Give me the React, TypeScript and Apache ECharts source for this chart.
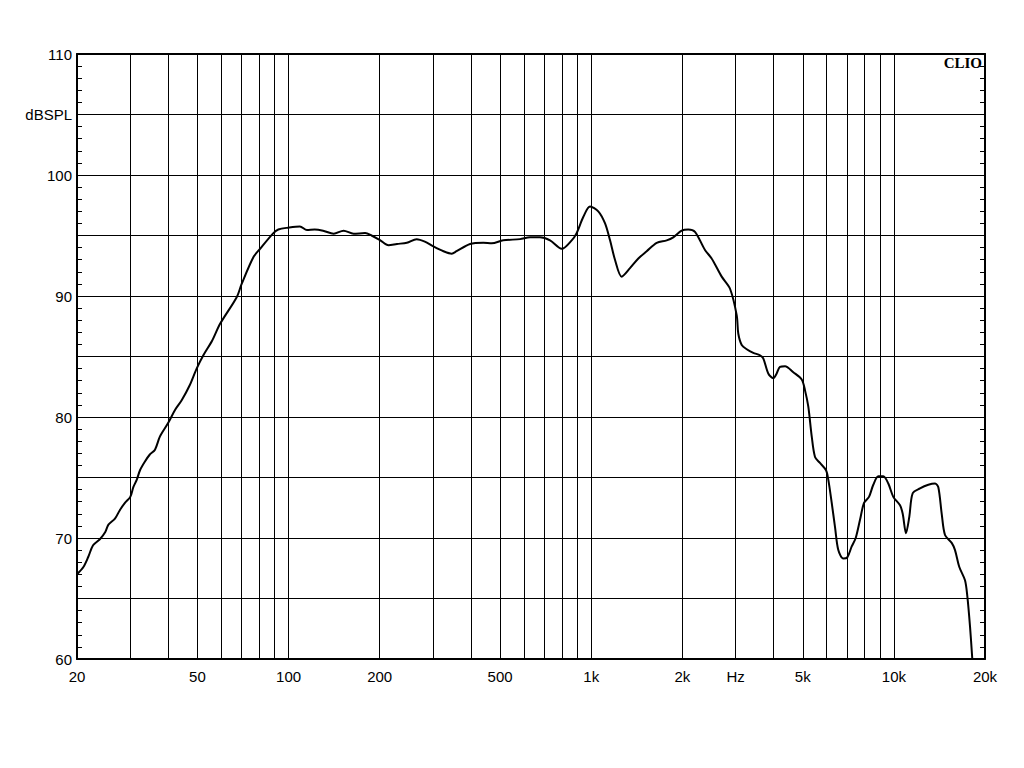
import React, { useEffect, useRef } from "react";
import * as echarts from "echarts";

const freqs = [
  20, 21.0, 21.8, 22.6, 23.8, 24.8, 25.4, 26.7, 27.7, 28.8, 30, 30.7, 31.5, 32.3, 33.5, 34.8, 36.2, 37.6, 40, 42.2,
  44.4, 47.1, 49.7, 52.3, 55.9, 59.4, 67.4, 70.0, 76.5, 80.5, 89.1, 92.5, 99.8, 109, 115, 122, 130, 141, 152, 164,
  179, 188, 201, 214, 228, 246, 265, 282, 301, 325, 346, 359, 398, 440, 469, 512, 582, 628, 677, 731,
  799, 862, 895, 942, 991, 1055, 1111, 1154, 1198, 1261, 1343, 1431, 1525, 1646, 1776, 1867, 1990, 2092, 2202, 2376,
  2500, 2698, 2875, 3025, 3061, 3142, 3264, 3432, 3611, 3702, 3846, 3995, 4100, 4204, 4368, 4652, 4960, 5086, 5215, 5352,
  5488, 5700, 5968, 6073, 6232, 6390, 6552, 6806, 7015, 7255, 7480, 7728, 7967, 8275, 8550, 8882, 9226, 9584, 9955, 10478,
  10694, 10965, 11244, 11538, 12198, 12996, 13675, 14022, 14388, 14754, 15524, 15920, 16450, 17178, 17482, 17844, 18158,
];
const splDb = [
  67.0, 67.6, 68.45, 69.4, 69.9, 70.5, 71.1, 71.6, 72.3, 72.9, 73.4, 74.2, 74.8, 75.6, 76.3, 76.9, 77.3, 78.4, 79.5, 80.6,
  81.4, 82.6, 84.0, 85.1, 86.3, 87.7, 89.9, 91.0, 93.2, 93.9, 95.2, 95.5, 95.65, 95.75, 95.45, 95.5, 95.4, 95.15, 95.4, 95.15,
  95.2, 95.0, 94.6, 94.2, 94.3, 94.4, 94.7, 94.5, 94.1, 93.7, 93.5, 93.7, 94.3, 94.4, 94.35, 94.6, 94.7, 94.85, 94.85, 94.6,
  93.9, 94.6, 95.2, 96.55, 97.4, 97.0, 96.0, 94.6, 93.0, 91.6, 92.3, 93.1, 93.7, 94.4, 94.6, 94.85, 95.4, 95.5, 95.3, 93.8,
  93.1, 91.6, 90.6, 88.4, 86.9, 85.95, 85.6, 85.3, 85.1, 84.85, 83.6, 83.2, 83.6, 84.15, 84.2, 83.7, 83.1, 82.2, 80.85, 78.4,
  76.7, 76.2, 75.6, 74.8, 72.9, 70.9, 69.0, 68.3, 68.4, 69.3, 70.0, 71.5, 72.9, 73.4, 74.4, 75.1, 75.1, 74.5, 73.4, 72.7,
  72.0, 70.4, 71.75, 73.7, 74.1, 74.4, 74.5, 74.2, 72.0, 70.25, 69.6, 69.0, 67.6, 66.5, 65.2, 62.7, 60.0,
];

const gridFreqs = [
  20, 30, 40, 50, 60, 70, 80, 90, 100, 200, 300, 400, 500, 600, 700, 800, 900, 1000,
  2000, 3000, 4000, 5000, 6000, 7000, 8000, 9000, 10000, 20000,
];
const tickFreqs = [20, 50, 100, 200, 500, 1000, 2000, 3000, 5000, 10000, 20000];
const tickLabels = ["20", "50", "100", "200", "500", "1k", "2k", "Hz", "5k", "10k", "20k"];

const FONT = "'Liberation Sans', Arial, sans-serif";

export default function App() {
  const ref = useRef<HTMLDivElement>(null);
  useEffect(() => {
    if (!ref.current) return;
    const chart = echarts.init(ref.current, null, { renderer: "svg" });
    const lineData = freqs.map((f, i) => [f, splDb[i]]);
    const markData = gridFreqs.map((f) => {
      const idx = tickFreqs.indexOf(f);
      return {
        xAxis: f,
        label: idx >= 0 ? { show: true, formatter: tickLabels[idx] } : { show: false },
      };
    });
    chart.setOption({
      animation: false,
      backgroundColor: "#ffffff",
      grid: { left: 77, top: 54, right: 39, bottom: 109, show: false },
      xAxis: [
        {
          type: "log",
          logBase: 10,
          min: 20,
          max: 20000,
          axisLine: { show: true, lineStyle: { color: "#000", width: 2 } },
          axisTick: { show: false },
          axisLabel: { show: false },
          splitLine: { show: false },
        },
        {
          type: "log",
          logBase: 10,
          min: 20,
          max: 20000,
          position: "top",
          axisLine: { show: true, lineStyle: { color: "#000", width: 2 } },
          axisTick: { show: false },
          axisLabel: { show: false },
          splitLine: { show: false },
        },
      ],
      yAxis: [
        {
          type: "value",
          min: 60,
          max: 110,
          interval: 5,
          axisLine: { show: true, lineStyle: { color: "#000", width: 2 } },
          axisTick: { show: true, inside: true, length: 5, lineStyle: { color: "#000", width: 1 } },
          minorTick: { show: true, splitNumber: 5, length: 5, lineStyle: { color: "#000", width: 1 } },
          axisLabel: {
            show: true,
            color: "#000",
            fontSize: 15,
            fontFamily: FONT,
            margin: 5,
            formatter: (v: number) => (v % 10 === 0 ? String(v) : v === 105 ? "dBSPL" : ""),
          },
          splitLine: { show: true, lineStyle: { color: "#000", width: 1 } },
        },
        {
          type: "value",
          min: 60,
          max: 110,
          interval: 5,
          position: "right",
          axisLine: { show: true, lineStyle: { color: "#000", width: 2 } },
          axisTick: { show: true, inside: true, length: 5, lineStyle: { color: "#000", width: 1 } },
          minorTick: { show: true, splitNumber: 5, length: 5, lineStyle: { color: "#000", width: 1 } },
          axisLabel: { show: false },
          splitLine: { show: false },
        },
      ],
      graphic: [
        {
          type: "text",
          right: 42,
          top: 55,
          style: {
            text: "CLIO",
            fill: "#000",
            font: "bold 15px 'Liberation Serif', 'DejaVu Serif', serif",
          },
        },
      ],
      series: [
        {
          type: "line",
          data: lineData,
          xAxisIndex: 0,
          yAxisIndex: 0,
          showSymbol: false,
          smooth: 0.3,
          clip: true,
          lineStyle: { color: "#000", width: 2 },
          z: 5,
          markLine: {
            silent: true,
            symbol: ["none", "none"],
            animation: false,
            lineStyle: { color: "#000", width: 1, type: "solid" },
            label: {
              position: "start",
              distance: 10,
              color: "#000",
              fontSize: 15,
              fontFamily: FONT,
            },
            emphasis: { disabled: true },
            data: markData,
          },
        },
      ],
    });
    return () => chart.dispose();
  }, []);
  return (
    <div
      ref={ref}
      style={{ position: "absolute", left: 0, top: 0, width: 1024, height: 768, background: "#fff" }}
    />
  );
}
